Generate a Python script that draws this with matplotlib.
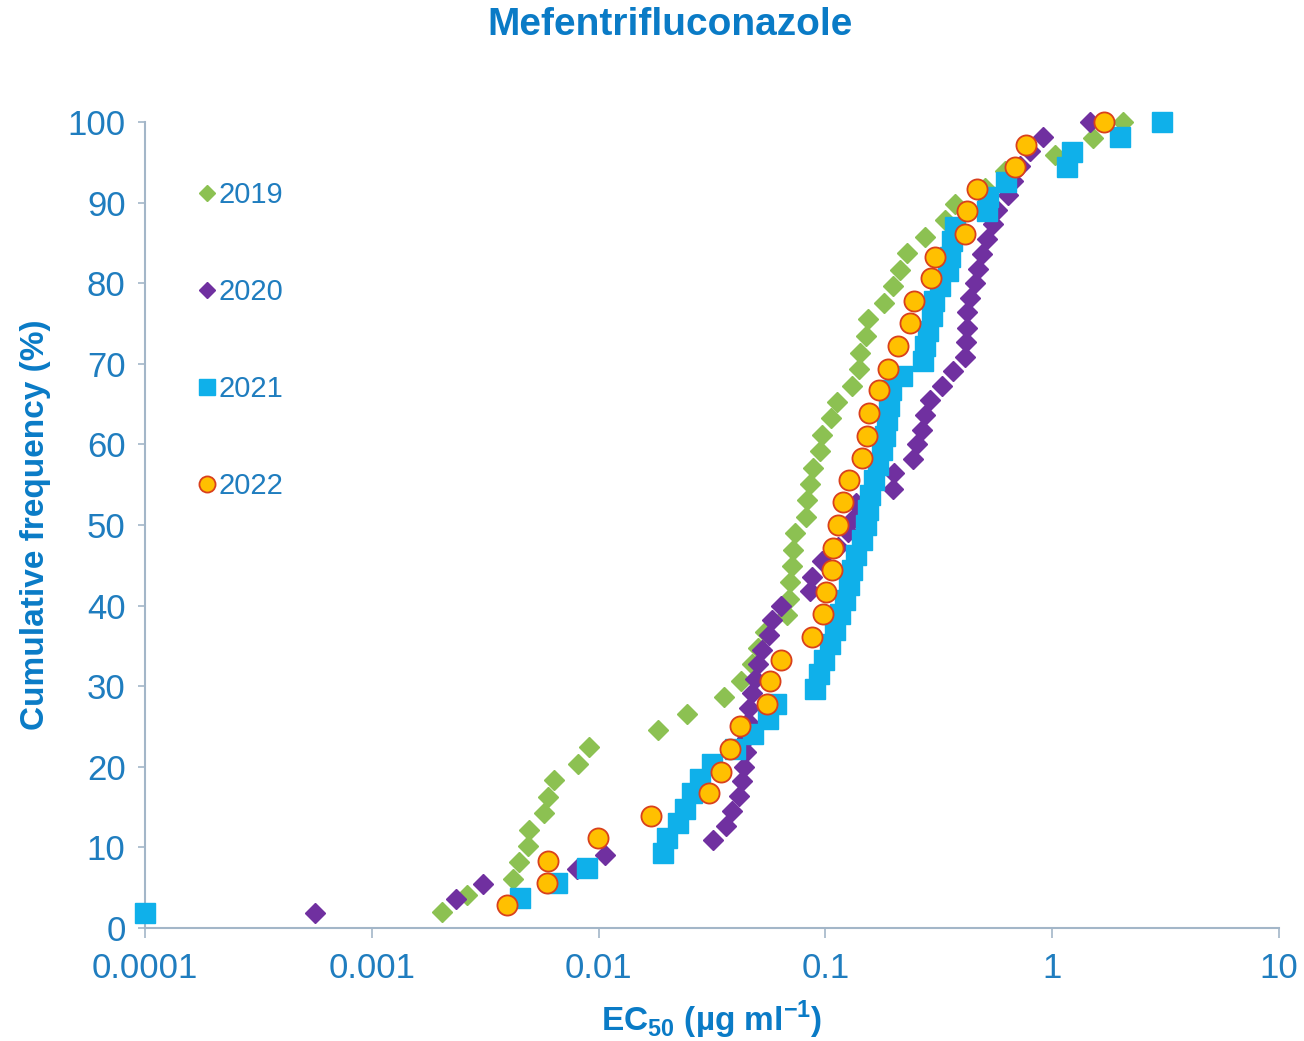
import matplotlib
matplotlib.use("Agg")
import matplotlib.pyplot as plt
from matplotlib.ticker import FixedLocator, FixedFormatter, NullLocator

plt.rcParams['font.family'] = ['Liberation Sans', 'DejaVu Sans']
plt.rcParams['mathtext.fontset'] = 'custom'
plt.rcParams['mathtext.rm'] = 'Liberation Sans'
plt.rcParams['mathtext.bf'] = 'Liberation Sans:bold'

title = "Mefentrifluconazole"
x_label = r"EC$_{\mathbf{50}}$ (µg ml$^{\mathbf{-1}}$)"
y_label = "Cumulative frequency (%)"

ec50_2019 = [0.00204, 0.00263, 0.00420, 0.00446, 0.00488, 0.00493, 0.00574, 0.00598, 0.00636, 0.00811,
             0.00907, 0.0183, 0.0245, 0.0357, 0.0425, 0.0475, 0.0505, 0.0542, 0.0677, 0.0691,
             0.0698, 0.0712, 0.0720, 0.0735, 0.0821, 0.0830, 0.0855, 0.0882, 0.0947, 0.0966,
             0.1059, 0.1125, 0.131, 0.141, 0.142, 0.151, 0.154, 0.181, 0.199, 0.213,
             0.229, 0.275, 0.337, 0.373, 0.506, 0.619, 1.029, 1.513, 2.052]
freq_2019 = [2.0, 4.1, 6.1, 8.2, 10.2, 12.2, 14.3, 16.3, 18.4, 20.4, 22.4, 24.5, 26.5, 28.6, 30.6, 32.7,
             34.7, 36.7, 38.8, 40.8, 42.9, 44.9, 46.9, 49.0, 51.0, 53.1, 55.1, 57.1, 59.2, 61.2, 63.3,
             65.3, 67.3, 69.4, 71.4, 73.5, 75.5, 77.6, 79.6, 81.6, 83.7, 85.7, 87.8, 89.8, 91.8, 93.9,
             95.9, 98.0, 100.0]

ec50_2020 = [0.000562, 0.00235, 0.00309, 0.00803, 0.01067, 0.0319, 0.0365, 0.0388, 0.0416, 0.0429,
             0.0438, 0.0447, 0.0451, 0.0456, 0.0460, 0.0475, 0.0489, 0.0505, 0.0525, 0.0564,
             0.0582, 0.0637, 0.0855, 0.0873, 0.0966, 0.1137, 0.1258, 0.1337, 0.1364, 0.199,
             0.2007, 0.243, 0.253, 0.267, 0.275, 0.289, 0.327, 0.365, 0.4125, 0.417,
             0.420, 0.421, 0.434, 0.457, 0.471, 0.490, 0.516, 0.548, 0.571, 0.638,
             0.672, 0.721, 0.798, 0.911, 1.468]
freq_2020 = [1.8, 3.6, 5.5, 7.3, 9.1, 10.9, 12.7, 14.5, 16.4, 18.2, 20.0, 21.8, 23.6, 25.5, 27.3, 29.1,
             30.9, 32.7, 34.5, 36.4, 38.2, 40.0, 41.8, 43.6, 45.5, 47.3, 49.1, 50.9, 52.7, 54.5, 56.4,
             58.2, 60.0, 61.8, 63.6, 65.5, 67.3, 69.1, 70.9, 72.7, 74.5, 76.4, 78.2, 80.0, 81.8, 83.6,
             85.5, 87.3, 89.1, 90.9, 92.7, 94.5, 96.4, 98.2, 100.0]

ec50_2021 = [0.0001, 0.00450, 0.00656, 0.00889, 0.0192, 0.0200, 0.0224, 0.0240, 0.0258, 0.0280,
             0.0316, 0.0399, 0.0480, 0.0558, 0.0606, 0.0900, 0.0937, 0.0986, 0.1048, 0.1102,
             0.1160, 0.1220, 0.1271, 0.131, 0.1364, 0.145, 0.151, 0.154, 0.157, 0.164,
             0.171, 0.178, 0.183, 0.187, 0.191, 0.195, 0.218, 0.269, 0.275, 0.283,
             0.295, 0.301, 0.320, 0.347, 0.354, 0.362, 0.373, 0.516, 0.521, 0.626,
             1.162, 1.223, 1.990, 3.05]
freq_2021 = [1.9, 3.7, 5.6, 7.4, 9.3, 11.1, 13.0, 14.8, 16.7, 18.5, 20.4, 22.2, 24.1, 25.9, 27.8, 29.6,
             31.5, 33.3, 35.2, 37.0, 38.9, 40.7, 42.6, 44.4, 46.3, 48.1, 50.0, 51.9, 53.7, 55.6, 57.4,
             59.3, 61.1, 63.0, 64.8, 66.7, 68.5, 70.4, 72.2, 74.1, 75.9, 77.8, 79.6, 81.5, 83.3, 85.2,
             87.0, 88.9, 90.7, 92.6, 94.4, 96.3, 98.1, 100.0]

ec50_2022 = [0.00395, 0.00590, 0.00600, 0.00994, 0.0170, 0.0307, 0.0347, 0.0380, 0.0420, 0.0553,
             0.0570, 0.0637, 0.0873, 0.0976, 0.1006, 0.1069, 0.1080, 0.1137, 0.1196, 0.1271,
             0.145, 0.1525, 0.1557, 0.1723, 0.1888, 0.209, 0.236, 0.246, 0.292, 0.304,
             0.4125, 0.421, 0.466, 0.686, 0.766, 1.692]
freq_2022 = [2.8, 5.6, 8.3, 11.1, 13.9, 16.7, 19.4, 22.2, 25.0, 27.8, 30.6, 33.3, 36.1, 38.9, 41.7, 44.4,
             47.2, 50.0, 52.8, 55.6, 58.3, 61.1, 63.9, 66.7, 69.4, 72.2, 75.0, 77.8, 80.6, 83.3, 86.1,
             88.9, 91.7, 94.4, 97.2, 100.0]

x_ticks = [0.0001, 0.001, 0.01, 0.1, 1, 10]
x_tick_labels = ["0.0001", "0.001", "0.01", "0.1", "1", "10"]
y_ticks = [0, 10, 20, 30, 40, 50, 60, 70, 80, 90, 100]

TEXT = '#1f7dbf'
TITLE = '#0a7bc6'
SPINE = '#a3b6c8'

fig = plt.figure(figsize=(13.04, 10.41), dpi=100)
ax = fig.add_axes([0.1112, 0.1086, 0.8696, 0.7742])

ax.plot(ec50_2019, freq_2019, linestyle='none', marker='D', ms=10.5, color='#8cc152',
        mec='#8cc152', label='2019', clip_on=False, zorder=3)
ax.plot(ec50_2020, freq_2020, linestyle='none', marker='D', ms=10.5, color='#7030a0',
        mec='#7030a0', label='2020', clip_on=False, zorder=4)
ax.plot(ec50_2021, freq_2021, linestyle='none', marker='s', ms=14, color='#0fb0ea',
        mec='#0fb0ea', label='2021', clip_on=False, zorder=5)
ax.plot(ec50_2022, freq_2022, linestyle='none', marker='o', ms=14.5, color='#ffc000',
        mec='#d9401c', mew=1.3, label='2022', clip_on=False, zorder=6)

ax.set_xscale('log')
ax.set_xlim(0.0001, 10)
ax.set_ylim(0, 100)
ax.xaxis.set_major_locator(FixedLocator(x_ticks))
ax.xaxis.set_major_formatter(FixedFormatter(x_tick_labels))
ax.xaxis.set_minor_locator(NullLocator())
ax.set_yticks(y_ticks)

for s in ['top', 'right']:
    ax.spines[s].set_visible(False)
for s in ['left', 'bottom']:
    ax.spines[s].set_color(SPINE)
    ax.spines[s].set_linewidth(1.5)

ax.tick_params(axis='both', colors=SPINE, labelcolor=TEXT, labelsize=25, width=1.2, direction='out')
ax.tick_params(axis='x', length=7, pad=10)
ax.tick_params(axis='y', length=5, pad=9)

fig.text(670 / 1304, 1 - 25 / 1041, title, fontsize=28, fontweight='bold', color=TITLE,
         ha='center', va='center')
ax.set_xlabel(x_label, fontsize=24, fontweight='bold', color=TITLE, labelpad=10)
ax.set_ylabel(y_label, fontsize=24, fontweight='bold', color=TITLE, labelpad=12)

leg = ax.legend(loc='upper left', bbox_to_anchor=(0.0365, 0.941), frameon=False, fontsize=21,
                labelspacing=2.36, handlelength=0.6, handletextpad=0.1, markerscale=0.8,
                labelcolor=TEXT, borderaxespad=0)

fig.savefig('out.png', dpi=100, facecolor='white')
